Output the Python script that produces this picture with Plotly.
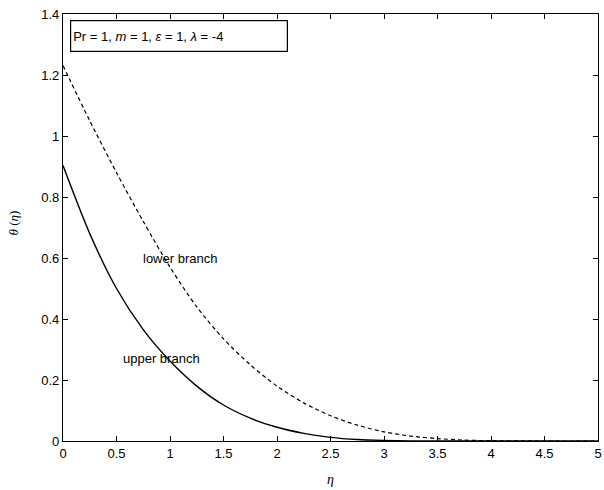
import plotly.graph_objects as go

# Data
eta_upper = [0.0, 0.25, 0.5, 0.75, 1.0, 1.25, 1.5, 1.75, 2.0, 2.25, 2.5, 2.75, 3.0, 3.25, 3.5, 4.0, 4.5, 5.0]
theta_upper = [0.903, 0.68, 0.50, 0.365, 0.262, 0.18, 0.118, 0.075, 0.045, 0.025, 0.012, 0.005, 0.002, 0.0005, 0.0, 0.0, 0.0, 0.0]

eta_lower = [0.0, 0.25, 0.5, 0.75, 1.0, 1.25, 1.5, 1.75, 2.0, 2.25, 2.5, 2.75, 3.0, 3.25, 3.5, 3.75, 4.0, 4.5, 5.0]
theta_lower = [1.231, 1.05, 0.88, 0.72, 0.57, 0.44, 0.335, 0.25, 0.18, 0.125, 0.083, 0.052, 0.030, 0.016, 0.008, 0.003, 0.001, 0.0, 0.0]

x_ticks = [0, 0.5, 1, 1.5, 2, 2.5, 3, 3.5, 4, 4.5, 5]
x_tick_labels = ["0", "0.5", "1", "1.5", "2", "2.5", "3", "3.5", "4", "4.5", "5"]
y_ticks = [0, 0.2, 0.4, 0.6, 0.8, 1.0, 1.2, 1.4]
y_tick_labels = ["0", "0.2", "0.4", "0.6", "0.8", "1", "1.2", "1.4"]

FONT = "Liberation Sans, Arial, sans-serif"

fig = go.Figure()
fig.add_trace(go.Scatter(x=eta_upper, y=theta_upper, mode="lines",
                         line=dict(color="black", width=1.4, shape="spline", smoothing=0.8),
                         name="upper branch", showlegend=False))
fig.add_trace(go.Scatter(x=eta_lower, y=theta_lower, mode="lines",
                         line=dict(color="black", width=1.2, dash="4px,3px", shape="spline", smoothing=0.8),
                         name="lower branch", showlegend=False))

axis_common = dict(showline=True, linecolor="black", linewidth=1.2, mirror="ticks",
                   ticks="inside", ticklen=5, tickcolor="black", tickwidth=1,
                   showgrid=False, zeroline=False, ticklabeloverflow="allow",
                   tickfont=dict(family=FONT, size=13, color="black"))

fig.update_xaxes(range=[0, 5], tickvals=x_ticks, ticktext=x_tick_labels, **axis_common)
fig.update_yaxes(range=[0, 1.4], tickvals=y_ticks, ticktext=y_tick_labels, **axis_common)

annotations = [
    dict(text="lower branch", x=0.73, y=0.6, xref="x", yref="y", xanchor="left", yanchor="middle",
         showarrow=False, font=dict(family=FONT, size=13, color="black")),
    dict(text="upper branch", x=0.54, y=0.27, xref="x", yref="y", xanchor="left", yanchor="middle",
         showarrow=False, font=dict(family=FONT, size=13, color="black")),
    dict(text="Pr = 1, <i>m</i> = 1, <i>ε</i> = 1, <i>λ</i> = -4",
         x=0.013, y=0.986, xref="paper", yref="paper", xanchor="left", yanchor="top",
         showarrow=False, align="left", width=212, height=26, borderpad=2,
         bordercolor="black", borderwidth=1.2, bgcolor="white",
         font=dict(family=FONT, size=13, color="black")),
    dict(text="<i>η</i>", x=0.5, y=-0.09, xref="paper", yref="paper", xanchor="center", yanchor="middle",
         showarrow=False, font=dict(family="Liberation Serif, Times New Roman, serif", size=14, color="black")),
    dict(text="<i>θ</i> (<i>η</i>)", x=-0.093, y=0.51, xref="paper", yref="paper", xanchor="center", yanchor="middle",
         textangle=-90, showarrow=False,
         font=dict(family="Liberation Serif, Times New Roman, serif", size=13, color="black")),
]

fig.update_layout(width=604, height=490, margin=dict(l=63, r=2, t=14, b=49),
                  paper_bgcolor="white", plot_bgcolor="white", annotations=annotations)

fig.write_html("out.html")
